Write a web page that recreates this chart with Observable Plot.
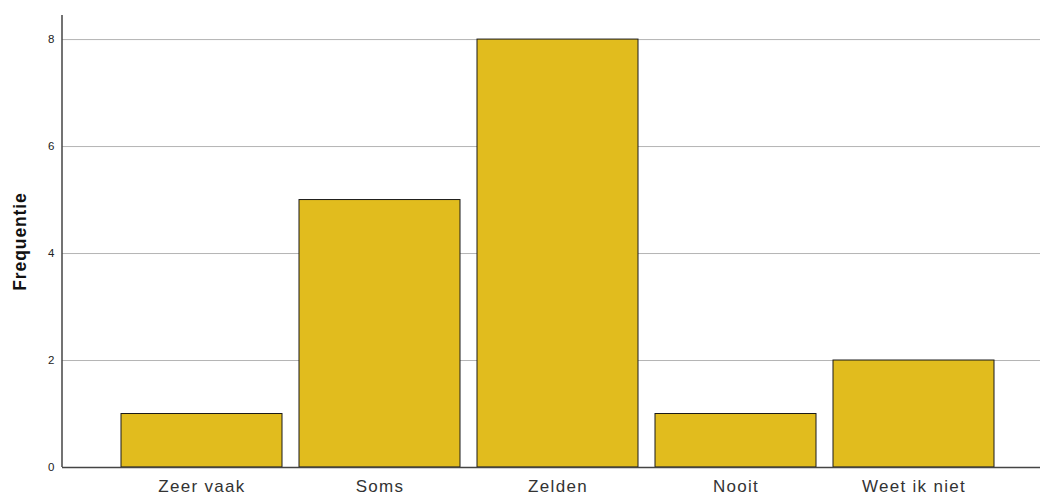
<!DOCTYPE html>
<html>
<head>
<meta charset="utf-8">
<script src="https://cdn.jsdelivr.net/npm/d3@7"></script>
<script src="https://cdn.jsdelivr.net/npm/@observablehq/plot@0.6"></script>
<style>
  html, body { margin: 0; padding: 0; background: #fff; }
  #chart svg { display: block; }
</style>
</head>
<body>
<div id="chart"></div>
<script>
const categories = ["Zeer vaak", "Soms", "Zelden", "Nooit", "Weet ik niet"];
const values = [1, 5, 8, 1, 2];
const yTicks = [0, 2, 4, 6, 8];
const yLabel = "Frequentie";

const data = categories.map((c, i) => ({category: c, value: values[i]}));
const yMax = 8.45;

const chart = Plot.plot({
  width: 1040,
  height: 495,
  marginLeft: 62,
  marginRight: 0,
  marginTop: 15,
  marginBottom: 28,
  style: {fontFamily: "Liberation Sans, Arial, sans-serif", background: "#fff"},
  x: {domain: categories, range: [111.7, 1003], paddingInner: 0.094, paddingOuter: 0.047},
  y: {domain: [0, yMax]},
  marks: [
    Plot.ruleY(yTicks.filter(d => d > 0), {stroke: "#b4b4b4", strokeWidth: 1}),
    Plot.barY(data, {x: "category", y: "value", fill: "#E1BC1E", stroke: "#1a1a1a", strokeWidth: 1}),
    Plot.ruleY([0], {stroke: "#444", strokeWidth: 1.5}),
    Plot.axisY({ticks: yTicks, tickSize: 0, tickPadding: 8, fontSize: 11.5, fill: "#222", label: null}),
    Plot.axisX({tickSize: 0, tickPadding: 12, fontSize: 17, fill: "#333", label: null}),
    Plot.text([yLabel], {frameAnchor: "left", textAnchor: "middle", dx: -42, rotate: -90, fontSize: 17.5, fontWeight: "bold", fill: "#111"})
  ]
});
// vertical y-axis line using the chart's own y scale
const ys = chart.scale("y");
d3.select(chart).append("line")
  .attr("x1", 62).attr("x2", 62)
  .attr("y1", ys.apply(yMax)).attr("y2", ys.apply(0))
  .attr("stroke", "#444").attr("stroke-width", 1.5);
d3.select(chart).selectAll('g[aria-label="x-axis tick label"] text').style("letter-spacing", "1.3px");
d3.select(chart).selectAll("text").filter(function() { return this.textContent === yLabel; }).style("letter-spacing", "0.9px");
document.getElementById("chart").appendChild(chart);
</script>
</body>
</html>
